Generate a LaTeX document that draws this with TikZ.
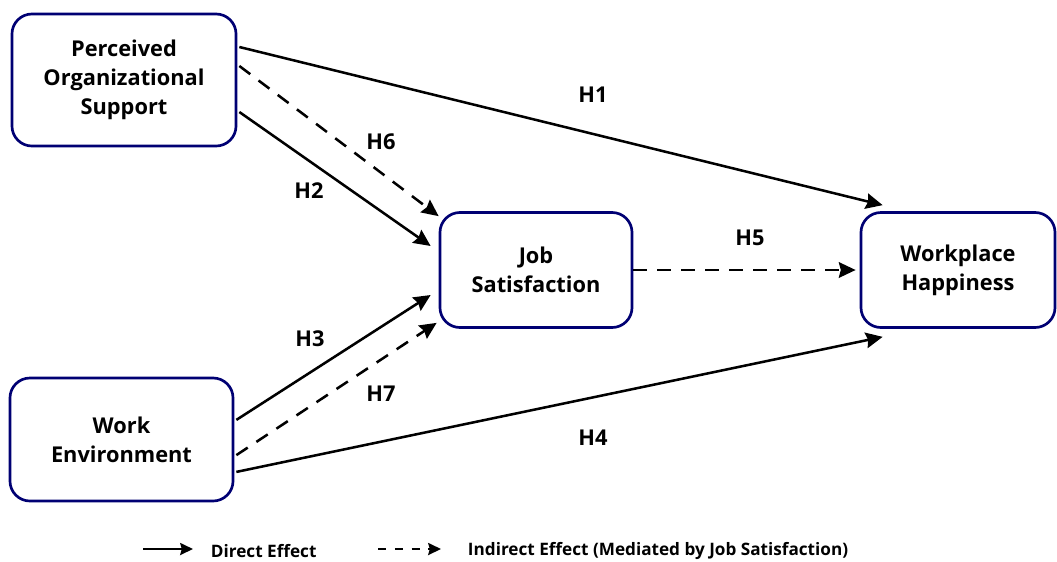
\documentclass[tikz,border=0pt]{standalone}
\usepackage{fontspec}
\setmainfont{Open Sans}
\usepackage{tikz}
\colorlet{colorBox}{blue!45!black}
\colorlet{colorArr}{black}
\usetikzlibrary{arrows.meta}
\usetikzlibrary{positioning}
\tikzset{
   every path/.style={>={Stealth[length=4.2mm,width=3.9mm,inset=0.5mm]}},
   construct/.style={draw=colorBox,line width=1.9pt,rounded corners=5mm,fill=white,
      align=center,font=\fontsize{15.5}{20.6}\selectfont\bfseries,inner sep=0pt},
   direct/.style={->,color=colorArr,line width=1.8pt},
   indirect/.style={->,color=colorArr,line width=1.8pt,dash pattern=on 3.4mm off 2.6mm},
   hyp/.style={font=\fontsize{15.5}{18}\selectfont\bfseries},
   legend/.style={font=\fontsize{12.2}{14}\selectfont\bfseries,anchor=west},
}

\begin{document}
\begin{tikzpicture}[x=0.025cm,y=-0.025cm]

        \useasboundingbox (0,0) rectangle (1057,561);

        \node[construct,minimum width=5.6cm,minimum height=3.3cm] (pos) at (124, 80) {Perceived\\Organizational\\Support};
        \node[construct,minimum width=5.575cm,minimum height=3.075cm] (we) at (121.5, 439.5) {Work\\Environment};
        \node[construct,minimum width=4.8cm,minimum height=2.875cm] (js) at (536, 270) {Job\\Satisfaction};
        \node[construct,minimum width=4.85cm,minimum height=2.875cm] (wh) at (958, 270) {Workplace\\Happiness};

        % hypotheses
        \draw[direct] ([xshift=0.05cm,yshift=0.825cm]pos.east) -- ([xshift=0.575cm,yshift=0.15cm]wh.north west);
        \draw[indirect] ([xshift=0.05cm,yshift=0.35cm]pos.east) -- ([yshift=-0.125cm]js.north west);
        \draw[direct] ([xshift=0.05cm,yshift=-0.8cm]pos.east) -- ([xshift=-0.2cm,yshift=0.6cm]js.west);
        \draw[direct] ([xshift=0.05cm,yshift=0.49cm]we.east) -- ([xshift=-0.2cm,yshift=-0.625cm]js.west);
        \draw[indirect] ([xshift=0.05cm,yshift=-0.39cm]we.east) -- ([xshift=-0.05cm,yshift=0.15cm]js.south west);
        \draw[direct] ([xshift=0.05cm,yshift=-0.81cm]we.east) -- ([xshift=0.575cm,yshift=-0.2cm]wh.south west);
        \draw[indirect] (js.east) -- ([xshift=-0.1cm]wh.west);

        \node[hyp] (h1) at (593, 95) {H1};
        \node[hyp] (h2) at (309, 191) {H2};
        \node[hyp] (h3) at (310, 339) {H3};
        \node[hyp] (h4) at (593, 438) {H4};
        \node[hyp] (h5) at (750, 238) {H5};
        \node[hyp] (h6) at (381, 142) {H6};
        \node[hyp] (h7) at (381, 394) {H7};

        % legend
        \coordinate (d1) at (143, 549);
        \coordinate (d2) at (193, 549);
        \coordinate (i1) at (378, 549);
        \coordinate (i2) at (441, 549);
        \draw[direct,line width=1.6pt,>={Stealth[length=3.2mm,width=3mm,inset=0.4mm]}] (d1) -- (d2);
        \draw[indirect,line width=1.6pt,dash pattern=on 2mm off 2.2mm,>={Stealth[length=3.2mm,width=3mm,inset=0.4mm]}] (i1) -- (i2);
        \node[legend] (ldir) at (206, 551) {Direct Effect};
        \node[legend] (lind) at (463, 551) {Indirect Effect (Mediated by Job Satisfaction)};

      \end{tikzpicture}
\end{document}
